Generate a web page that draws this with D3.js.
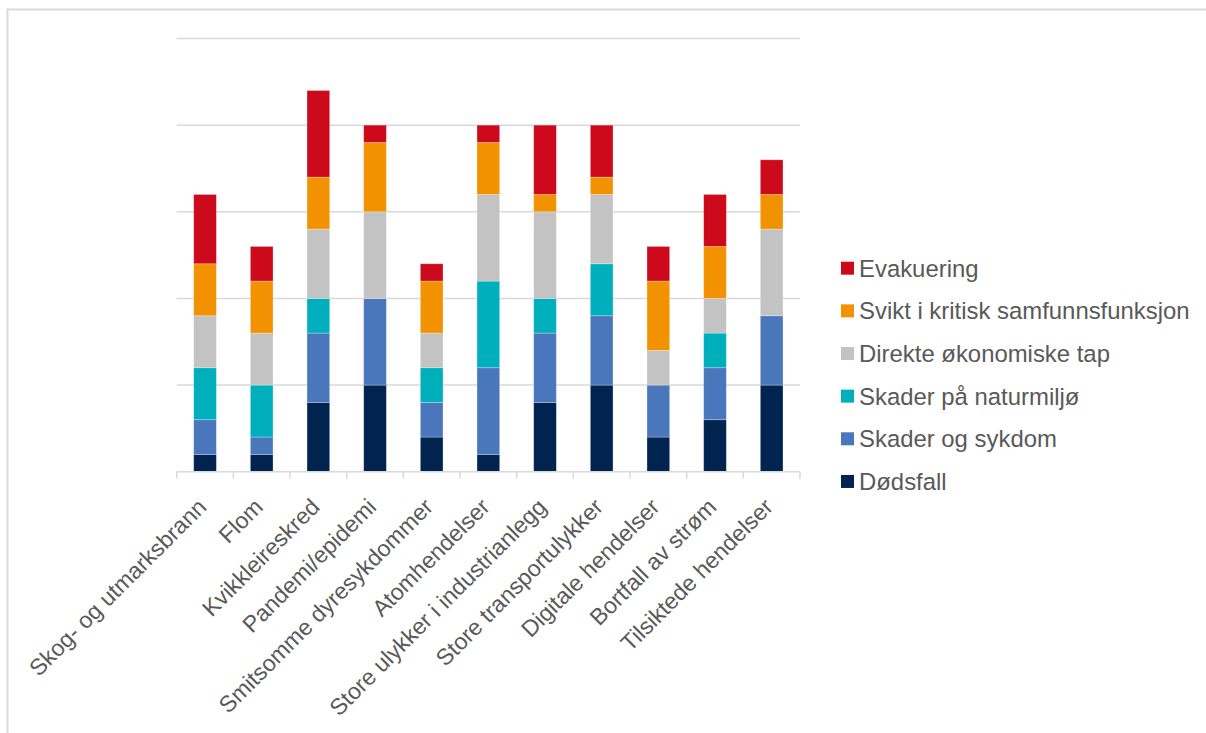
<!DOCTYPE html>
<html>
<head>
<meta charset="utf-8">
<script src="https://cdn.jsdelivr.net/npm/d3@7"></script>
<style>
  body { margin: 0; background: #fff; }
  svg { display: block; font-family: "Liberation Sans", Arial, sans-serif; }
</style>
</head>
<body>
<svg id="chart" width="1206" height="733"></svg>
<script>
// categories along the x axis
var categories = ["Skog- og utmarksbrann", "Flom", "Kvikkleireskred", "Pandemi/epidemi",
  "Smitsomme dyresykdommer", "Atomhendelser", "Store ulykker i industrianlegg",
  "Store transportulykker", "Digitale hendelser", "Bortfall av strøm", "Tilsiktede hendelser"];

// series, bottom to top
var dodsfall = [1, 1, 4, 5, 2, 1, 4, 5, 2, 3, 5];
var skader   = [2, 1, 4, 5, 2, 5, 4, 4, 3, 3, 4];
var natur    = [3, 3, 2, 0, 2, 5, 2, 3, 0, 2, 0];
var direkte  = [3, 3, 4, 5, 2, 5, 5, 4, 2, 2, 5];
var svikt    = [3, 3, 3, 4, 3, 3, 1, 1, 4, 3, 2];
var evak     = [4, 2, 5, 1, 1, 1, 4, 3, 2, 3, 2];

var seriesNames = ["Dødsfall", "Skader og sykdom", "Skader på naturmiljø",
  "Direkte økonomiske tap", "Svikt i kritisk samfunnsfunksjon", "Evakuering"];
var seriesColors = ["#00234f", "#4a76bc", "#00afbc", "#c3c3c3", "#f39200", "#cc0a1c"];
var gridTicks = [0, 5, 10, 15, 20, 25];

var svg = d3.select('#chart');

// chart frame
svg.append('rect')
  .attr('x', 7.5).attr('y', 9.5)
  .attr('width', 1300).attr('height', 800)
  .attr('fill', 'none').attr('stroke', '#d9d9d9').attr('stroke-width', 2);

var rows = categories.map(function(c, i) {
  return { cat: c, d0: dodsfall[i], d1: skader[i], d2: natur[i], d3: direkte[i], d4: svikt[i], d5: evak[i] };
});
var keys = ['d0', 'd1', 'd2', 'd3', 'd4', 'd5'];
var stacked = d3.stack().keys(keys)(rows);

var x = d3.scaleBand().domain(categories).range([176.7, 800]).paddingInner(0.6).paddingOuter(0.3);
var y = d3.scaleLinear().domain([0, 25]).range([471.7, 38.5]);

// gridlines
svg.append('g')
  .selectAll('line')
  .data(gridTicks.slice(1))
  .enter()
  .append('line')
  .attr('x1', 176.7).attr('x2', 800)
  .attr('y1', function(d) { return y(d); })
  .attr('y2', function(d) { return y(d); })
  .attr('stroke', '#d9d9d9').attr('stroke-width', 1.5);

// bars
svg.append('g')
  .selectAll('g')
  .data(stacked)
  .enter()
  .append('g')
  .attr('fill', function(d, i) { return seriesColors[i]; })
  .selectAll('rect')
  .data(function(d) { return d.filter(function(p) { return p[1] > p[0]; }); })
  .enter()
  .append('rect')
  .attr('x', function(d) { return x(d.data.cat); })
  .attr('width', x.bandwidth())
  .attr('y', function(d) { return y(d[1]); })
  .attr('height', function(d) { return y(d[0]) - y(d[1]); })
  .attr('stroke', 'rgba(255,255,255,0.35)')
  .attr('stroke-width', 0.8);

// x axis line and tick marks between categories
var step = x.step();
var edges = d3.range(categories.length + 1).map(function(i) { return 176.7 + i * step; });
var axisG = svg.append('g');
axisG.append('line')
  .attr('x1', 176.7).attr('x2', 800)
  .attr('y1', y(0)).attr('y2', y(0))
  .attr('stroke', '#d9d9d9').attr('stroke-width', 1.5);
axisG.selectAll('line.tick')
  .data(edges)
  .enter()
  .append('line')
  .attr('class', 'tick')
  .attr('x1', function(d) { return d; }).attr('x2', function(d) { return d; })
  .attr('y1', y(0)).attr('y2', y(0) + 7)
  .attr('stroke', '#d9d9d9').attr('stroke-width', 1.5);

// rotated category labels
axisG.selectAll('text')
  .data(categories)
  .enter()
  .append('text')
  .attr('transform', function(d) {
    var cx = x(d) + x.bandwidth() / 2 - 3;
    return 'translate(' + cx + ',' + (y(0) + 31) + ') rotate(-45)';
  })
  .attr('text-anchor', 'end')
  .attr('dy', '0.35em')
  .attr('fill', '#595959')
  .style('font-size', '23px')
  .text(function(d) { return d; });

// legend, top to bottom reversed order
var legend = svg.append('g')
  .selectAll('g')
  .data(seriesNames.slice().reverse())
  .enter()
  .append('g')
  .attr('transform', function(d, i) { return 'translate(841,' + (268.2 + i * 42.65) + ')'; });

legend.append('rect')
  .attr('x', 0).attr('y', -6.5)
  .attr('width', 13).attr('height', 13)
  .attr('fill', function(d, i) { return seriesColors[seriesColors.length - 1 - i]; });

legend.append('text')
  .attr('x', 18).attr('y', 0)
  .attr('dy', '0.35em')
  .attr('fill', '#595959')
  .style('font-size', '23.9px')
  .text(function(d) { return d; });
</script>
</body>
</html>
